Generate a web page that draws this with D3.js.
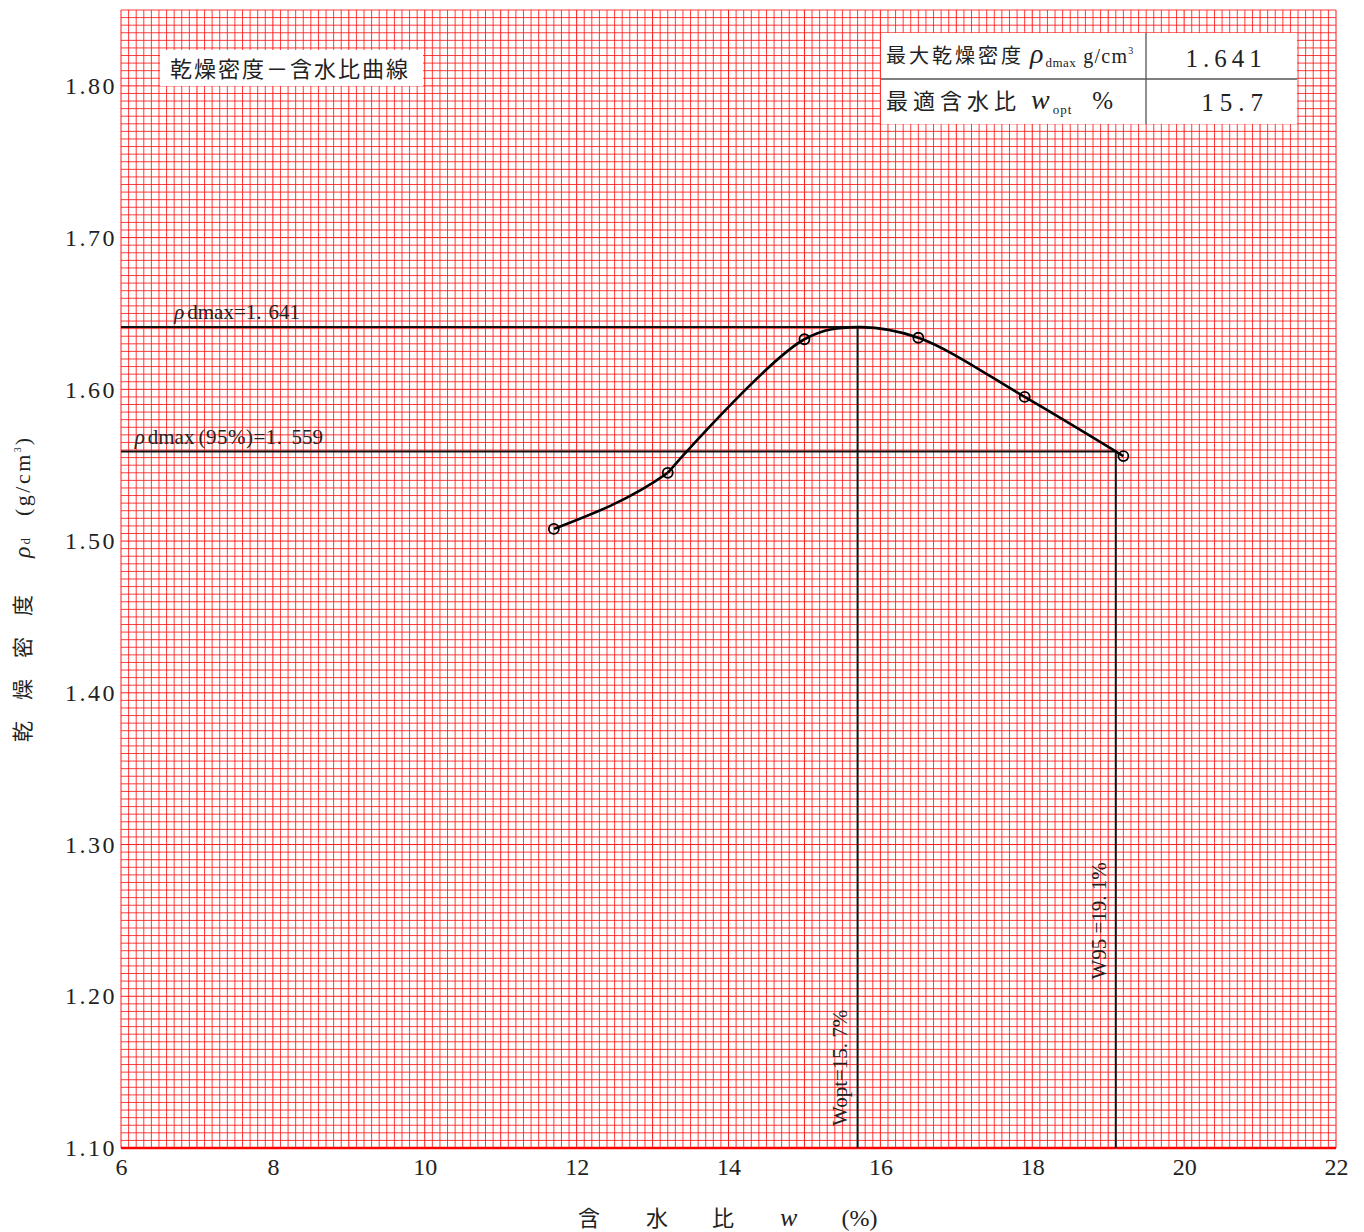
<!DOCTYPE html>
<html>
<head>
<meta charset="utf-8">
<script src="https://cdn.jsdelivr.net/npm/d3@7"></script>
<style>
  html, body { margin: 0; padding: 0; background: #fff; }
  svg { display: block; }
  .serif { font-family: "Liberation Serif", "DejaVu Serif", serif; }
  .cjk { font-family: "Noto Sans CJK JP", "Noto Sans", sans-serif; }
</style>
</head>
<body>
<svg id="chart" width="1364" height="1232"></svg>
<script>
// Compaction test results: water content w (%) and dry density ρd (g/cm³)
const waterContent = [11.7, 13.2, 15.0, 16.5, 17.9, 19.2];
const dryDensity   = [1.508, 1.545, 1.633, 1.634, 1.595, 1.556];

// Results
const rhoDmax = 1.641;   // maximum dry density
const wOpt    = 15.7;    // optimum water content
const rho95   = 1.559;   // 95% of maximum dry density
const w95     = 19.1;    // water content at 95% density (wet side)

// Axis ticks
const xTicks = [6, 8, 10, 12, 14, 16, 18, 20, 22];
const yTicks = [1.10, 1.20, 1.30, 1.40, 1.50, 1.60, 1.70, 1.80];

const svg = d3.select("#chart");
const plot = { left: 121, right: 1336, top: 10, bottom: 1148 };

const x = d3.scaleLinear().domain([6, 22]).range([plot.left, plot.right]);
const y = d3.scaleLinear().domain([1.10, 1.85]).range([plot.bottom, plot.top]);

// --- graph paper grid: 0.1 % in w, 0.005 g/cm³ in ρd ---
const grid = svg.append("g").attr("stroke", "#ff1a1a").attr("stroke-width", 1).attr("fill", "none");
const xGrid = d3.range(0, 161).map(i => 6 + i * 0.1);
const yGrid = d3.range(0, 151).map(i => 1.10 + i * 0.005);
grid.selectAll("line.vx").data(xGrid).join("line")
  .attr("x1", d => x(d)).attr("x2", d => x(d))
  .attr("y1", plot.top).attr("y2", plot.bottom)
  .attr("stroke-opacity", (d, i) => i % 10 === 0 ? 1 : 0.85);
grid.selectAll("line.hy").data(yGrid).join("line")
  .attr("y1", d => y(d)).attr("y2", d => y(d))
  .attr("x1", plot.left).attr("x2", plot.right)
  .attr("stroke-opacity", (d, i) => i % 20 === 0 ? 1 : 0.85);

// bottom axis edge
svg.append("line")
  .attr("x1", plot.left).attr("x2", plot.right)
  .attr("y1", plot.bottom).attr("y2", plot.bottom)
  .attr("stroke", "#ff0000").attr("stroke-width", 2.5);

// --- axes (labels only) ---
const xAxis = svg.append("g")
  .attr("transform", `translate(0,${plot.bottom})`)
  .call(d3.axisBottom(x).tickValues(xTicks).tickSize(0).tickPadding(10).tickFormat(d3.format("d")));
xAxis.select(".domain").remove();
xAxis.selectAll("text").attr("class", "serif").attr("font-size", 24).attr("fill", "#222");

const yAxis = svg.append("g")
  .attr("transform", `translate(${plot.left},0)`)
  .call(d3.axisLeft(y).tickValues(yTicks).tickSize(0).tickPadding(4).tickFormat(d3.format(".2f")));
yAxis.select(".domain").remove();
yAxis.selectAll("text").attr("class", "serif").attr("font-size", 24).attr("fill", "#222")
  .attr("letter-spacing", 2.5);

// --- reference lines for ρdmax, wopt and 95% density ---
const ref = svg.append("g").attr("stroke", "#111").attr("stroke-width", 2).attr("fill", "none");
ref.append("line").attr("x1", plot.left).attr("x2", x(wOpt) + 2).attr("y1", y(rhoDmax)).attr("y2", y(rhoDmax));
ref.append("line").attr("x1", plot.left).attr("x2", x(w95) + 1).attr("y1", y(rho95)).attr("y2", y(rho95));
ref.append("line").attr("x1", x(wOpt)).attr("x2", x(wOpt)).attr("y1", y(rhoDmax)).attr("y2", plot.bottom);
ref.append("line").attr("x1", x(w95)).attr("x2", x(w95)).attr("y1", y(rho95)).attr("y2", plot.bottom);

// reference line labels
const refLabel = svg.append("g").attr("class", "serif").attr("fill", "#222").attr("font-size", 21);
const t1 = refLabel.append("text").attr("x", x(6.7)).attr("y", y(rhoDmax) - 8);
t1.append("tspan").attr("font-style", "italic").text("ρ");
t1.append("tspan").attr("dx", 3).text("dmax=1.");
t1.append("tspan").attr("dx", 7).text("641");
const t2 = refLabel.append("text").attr("x", x(6.18)).attr("y", y(rho95) - 8);
t2.append("tspan").attr("font-style", "italic").text("ρ");
t2.append("tspan").attr("dx", 3).text("dmax");
t2.append("tspan").attr("dx", 4).attr("letter-spacing", 0.5).text("(95%)=1.");
t2.append("tspan").attr("dx", 9).text("559");

refLabel.append("text")
  .attr("transform", `translate(${x(wOpt) - 11},${plot.bottom - 22}) rotate(-90)`)
  .attr("font-size", 21)
  .text("Wopt=15. 7%");
refLabel.append("text")
  .attr("transform", `translate(${x(w95) - 10},${y(1.211)}) rotate(-90)`)
  .attr("font-size", 21)
  .text("W95  =19. 1%");

// --- compaction curve ---
// dry side (first two points) drawn with a monotone spline, clipped at the second point;
// the rest passes through the peak with a centripetal Catmull-Rom spline
const pts = waterContent.map((w, i) => [w, dryDensity[i]]);
const wetSide = pts.slice(1).concat([[wOpt, rhoDmax]]).sort((a, b) => a[0] - b[0]);
const drySide = pts.slice(0, 3);

svg.append("clipPath").attr("id", "dryClip")
  .append("rect").attr("x", 0).attr("y", 0).attr("width", x(waterContent[1])).attr("height", 1232);

const lineMono = d3.line().x(d => x(d[0])).y(d => y(d[1])).curve(d3.curveMonotoneX);
const lineCR = d3.line().x(d => x(d[0])).y(d => y(d[1])).curve(d3.curveCatmullRom.alpha(0.5));

svg.append("path").datum(drySide).attr("clip-path", "url(#dryClip)")
  .attr("d", lineMono).attr("fill", "none").attr("stroke", "#000").attr("stroke-width", 2.6);
svg.append("path").datum(wetSide)
  .attr("d", lineCR).attr("fill", "none").attr("stroke", "#000").attr("stroke-width", 2.6)
  .attr("stroke-linejoin", "round");

svg.append("g").selectAll("circle").data(waterContent).join("circle")
  .attr("cx", d => x(d)).attr("cy", (d, i) => y(dryDensity[i]))
  .attr("r", 5).attr("fill", "none").attr("stroke", "#000").attr("stroke-width", 1.8);

// --- chart title box ---
svg.append("rect").attr("x", 160).attr("y", 50).attr("width", 263).attr("height", 36).attr("fill", "#fff");
svg.append("text").attr("class", "cjk").attr("x", 170).attr("y", 77)
  .attr("font-size", 22).attr("letter-spacing", 2).attr("fill", "#222")
  .text("乾燥密度－含水比曲線");

// --- result table ---
const tb = svg.append("g");
tb.append("rect").attr("x", 881).attr("y", 33).attr("width", 416).attr("height", 91).attr("fill", "#fff");
tb.append("line").attr("x1", 881).attr("x2", 1297).attr("y1", 79).attr("y2", 79).attr("stroke", "#555").attr("stroke-width", 1.3);
tb.append("line").attr("x1", 1146).attr("x2", 1146).attr("y1", 33).attr("y2", 124).attr("stroke", "#555").attr("stroke-width", 1.3);

const r1 = tb.append("text").attr("x", 886).attr("y", 63).attr("fill", "#222");
r1.append("tspan").attr("class", "cjk").attr("font-size", 20).attr("letter-spacing", 3).text("最大乾燥密度");
r1.append("tspan").attr("class", "serif").attr("font-size", 28).attr("font-style", "italic").attr("dx", 6).text("ρ");
r1.append("tspan").attr("class", "serif").attr("font-size", 13).attr("dy", 4).attr("dx", 2).attr("letter-spacing", 0.5).text("dmax");
r1.append("tspan").attr("class", "serif").attr("font-size", 20).attr("dy", -4).attr("dx", 7).attr("letter-spacing", 1.2).text("g/cm");
r1.append("tspan").attr("class", "serif").attr("font-size", 10).attr("dy", -9).text("3");

const r2 = tb.append("text").attr("x", 886).attr("y", 109).attr("fill", "#222");
r2.append("tspan").attr("class", "cjk").attr("font-size", 22).attr("letter-spacing", 5).text("最適含水比");
r2.append("tspan").attr("class", "serif").attr("font-size", 28).attr("font-style", "italic").attr("dx", 10).text("w");
r2.append("tspan").attr("class", "serif").attr("font-size", 13).attr("dy", 5).attr("dx", 3).attr("letter-spacing", 1).text("opt");
r2.append("tspan").attr("class", "serif").attr("font-size", 25).attr("dy", -5).attr("dx", 20).text("%");

tb.append("text").attr("class", "serif").attr("x", 1226).attr("y", 67).attr("text-anchor", "middle")
  .attr("font-size", 25).attr("letter-spacing", 5).attr("fill", "#222").text(d3.format(".3f")(rhoDmax));
tb.append("text").attr("class", "serif").attr("x", 1235).attr("y", 111).attr("text-anchor", "middle")
  .attr("font-size", 25).attr("letter-spacing", 6).attr("fill", "#222").text(d3.format(".1f")(wOpt));

// --- axis titles ---
const xt = svg.append("text").attr("x", 578).attr("y", 1226).attr("fill", "#222").attr("font-size", 22);
xt.append("tspan").attr("class", "cjk").text("含");
xt.append("tspan").attr("class", "cjk").attr("dx", 46).text("水");
xt.append("tspan").attr("class", "cjk").attr("dx", 44).text("比");
xt.append("tspan").attr("class", "serif").attr("font-style", "italic").attr("font-size", 26).attr("dx", 46).text("w");
xt.append("tspan").attr("class", "serif").attr("font-size", 24).attr("dx", 44).text("(%)");

const yt = svg.append("text").attr("transform", "translate(30,742) rotate(-90)").attr("fill", "#222").attr("font-size", 21);
yt.append("tspan").attr("class", "cjk").attr("letter-spacing", 21).text("乾燥密度");
yt.append("tspan").attr("class", "serif").attr("font-style", "italic").attr("font-size", 24).attr("dx", 16).text("ρ");
yt.append("tspan").attr("class", "serif").attr("font-size", 13).attr("dx", 2).text("d");
yt.append("tspan").attr("class", "serif").attr("font-size", 22).attr("dx", 22).attr("letter-spacing", 2.5).text("(g/cm");
yt.append("tspan").attr("class", "serif").attr("font-size", 10).attr("dy", -9).text("3");
yt.append("tspan").attr("class", "serif").attr("font-size", 22).attr("dy", 9).attr("dx", 2).text(")");
</script>
</body>
</html>
